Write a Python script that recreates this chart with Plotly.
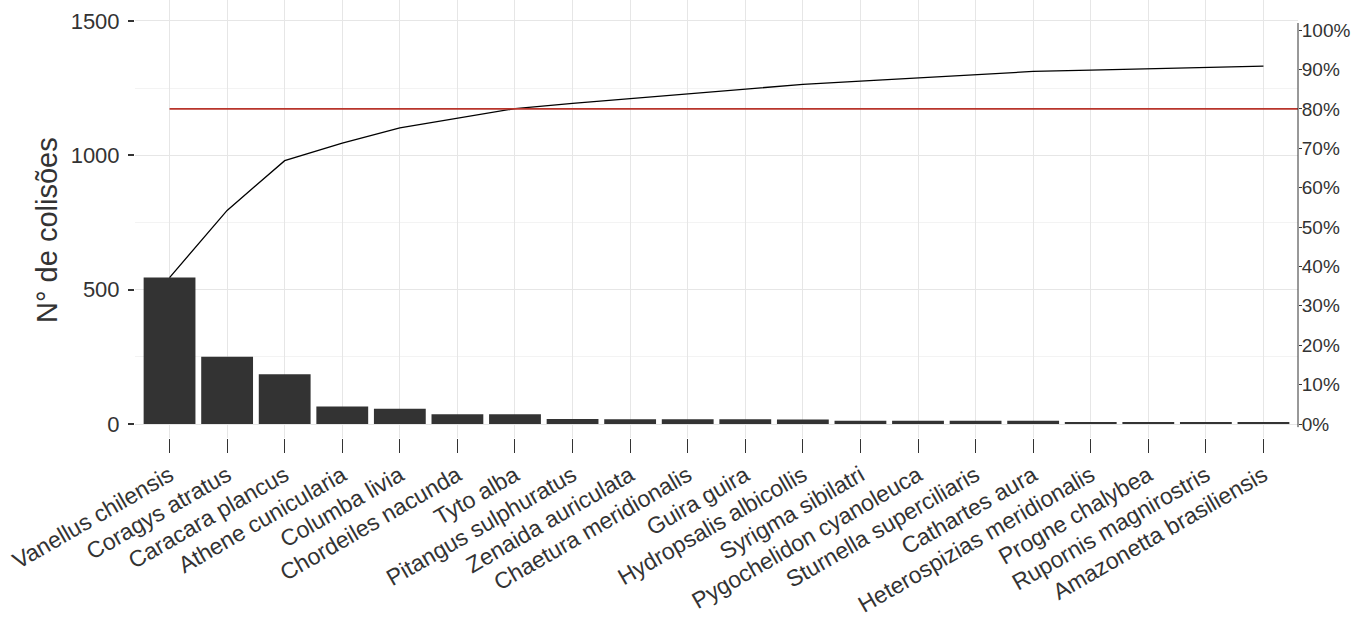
import plotly.graph_objects as go
import numpy as np

species = ["Vanellus chilensis", "Coragys atratus", "Caracara plancus", "Athene cunicularia",
           "Columba livia", "Chordeiles nacunda", "Tyto alba", "Pitangus sulphuratus",
           "Zenaida auriculata", "Chaetura meridionalis", "Guira guira", "Hydropsalis albicollis",
           "Syrigma sibilatri", "Pygochelidon cyanoleuca", "Sturnella superciliaris", "Cathartes aura",
           "Heterospizias meridionalis", "Progne chalybea", "Rupornis magnirostris", "Amazonetta brasiliensis"]
counts = [545, 250, 185, 65, 57, 36, 36, 19, 18, 18, 18, 17, 12, 12, 12, 12, 5, 5, 5, 5]
total_collisions = 1466
pct_ticks = [0, 10, 20, 30, 40, 50, 60, 70, 80, 90, 100]
left_ticks = [0, 500, 1000, 1500]
threshold = 0.8

cumulative = np.cumsum(counts)
xi = list(range(len(species)))

FONT = "Liberation Sans, Arial, sans-serif"
ylo, yhi = -52.1, 1578

fig = go.Figure()
fig.add_trace(go.Bar(x=xi, y=counts, marker=dict(color="#333333", line=dict(width=0)),
                     width=0.9, showlegend=False))
fig.add_trace(go.Scatter(x=xi, y=cumulative, mode="lines",
                         line=dict(color="#000000", width=1.3), showlegend=False))
# invisible trace to activate y2
fig.add_trace(go.Scatter(x=[0], y=[0], yaxis="y2", mode="markers",
                         marker=dict(opacity=0), showlegend=False, hoverinfo="skip"))

fig.add_shape(type="line", xref="x", yref="y", x0=0, x1=19.6,
              y0=threshold * total_collisions, y1=threshold * total_collisions,
              line=dict(color="#b8352b", width=1.6))
fig.add_shape(type="line", xref="paper", yref="y2", x0=1, x1=1, y0=-0.8, y1=101.8,
              line=dict(color="#333333", width=1))

fig.update_layout(
    width=1360, height=626,
    margin=dict(l=135, r=62, t=0, b=188, autoexpand=False),
    paper_bgcolor="white", plot_bgcolor="white",
    font=dict(family=FONT, color="#333333"),
    bargap=0.1,
    xaxis=dict(
        range=[-0.6, 19.6], tickmode="array", tickvals=xi, ticktext=species,
        tickangle=-30, tickfont=dict(size=23, color="#333333"),
        ticks="outside", ticklen=14, tickcolor="#333333", tickwidth=1.2,
        showgrid=True, gridcolor="#e6e6e6", gridwidth=1, zeroline=False, showline=False,
        automargin=False,
    ),
    yaxis=dict(
        range=[ylo, yhi], tickmode="array", tickvals=left_ticks,
        tickfont=dict(size=22, color="#333333"),
        ticks="outside", ticklen=6, tickcolor="#333333", tickwidth=1.5,
        ticklabelstandoff=4, automargin=False,
        showgrid=True, gridcolor="#e6e6e6", gridwidth=1, zeroline=False, showline=False,
        minor=dict(tickvals=[250, 750, 1250], showgrid=True, gridcolor="#f3f3f3", ticks=""),
    ),
    yaxis2=dict(
        overlaying="y", side="right", automargin=False,
        range=[ylo / total_collisions * 100, yhi / total_collisions * 100],
        tickmode="array", tickvals=pct_ticks, ticktext=[f"{p}%" for p in pct_ticks],
        tickfont=dict(size=19, color="#333333"),
        ticks="outside", ticklen=3, tickcolor="#333333", ticklabelstandoff=-4,
        showgrid=False, zeroline=False, showline=False,
    ),
    annotations=[dict(text="N° de colisões", xref="paper", yref="paper",
                      x=(47 - 135) / 1163, y=(438 - 230) / 438, textangle=-90,
                      showarrow=False, font=dict(size=29, color="#333333", family=FONT),
                      xanchor="center", yanchor="middle")],
)

fig.write_html("out.html", config={"displayModeBar": False},
               post_script="document.body.style.margin='0';")
